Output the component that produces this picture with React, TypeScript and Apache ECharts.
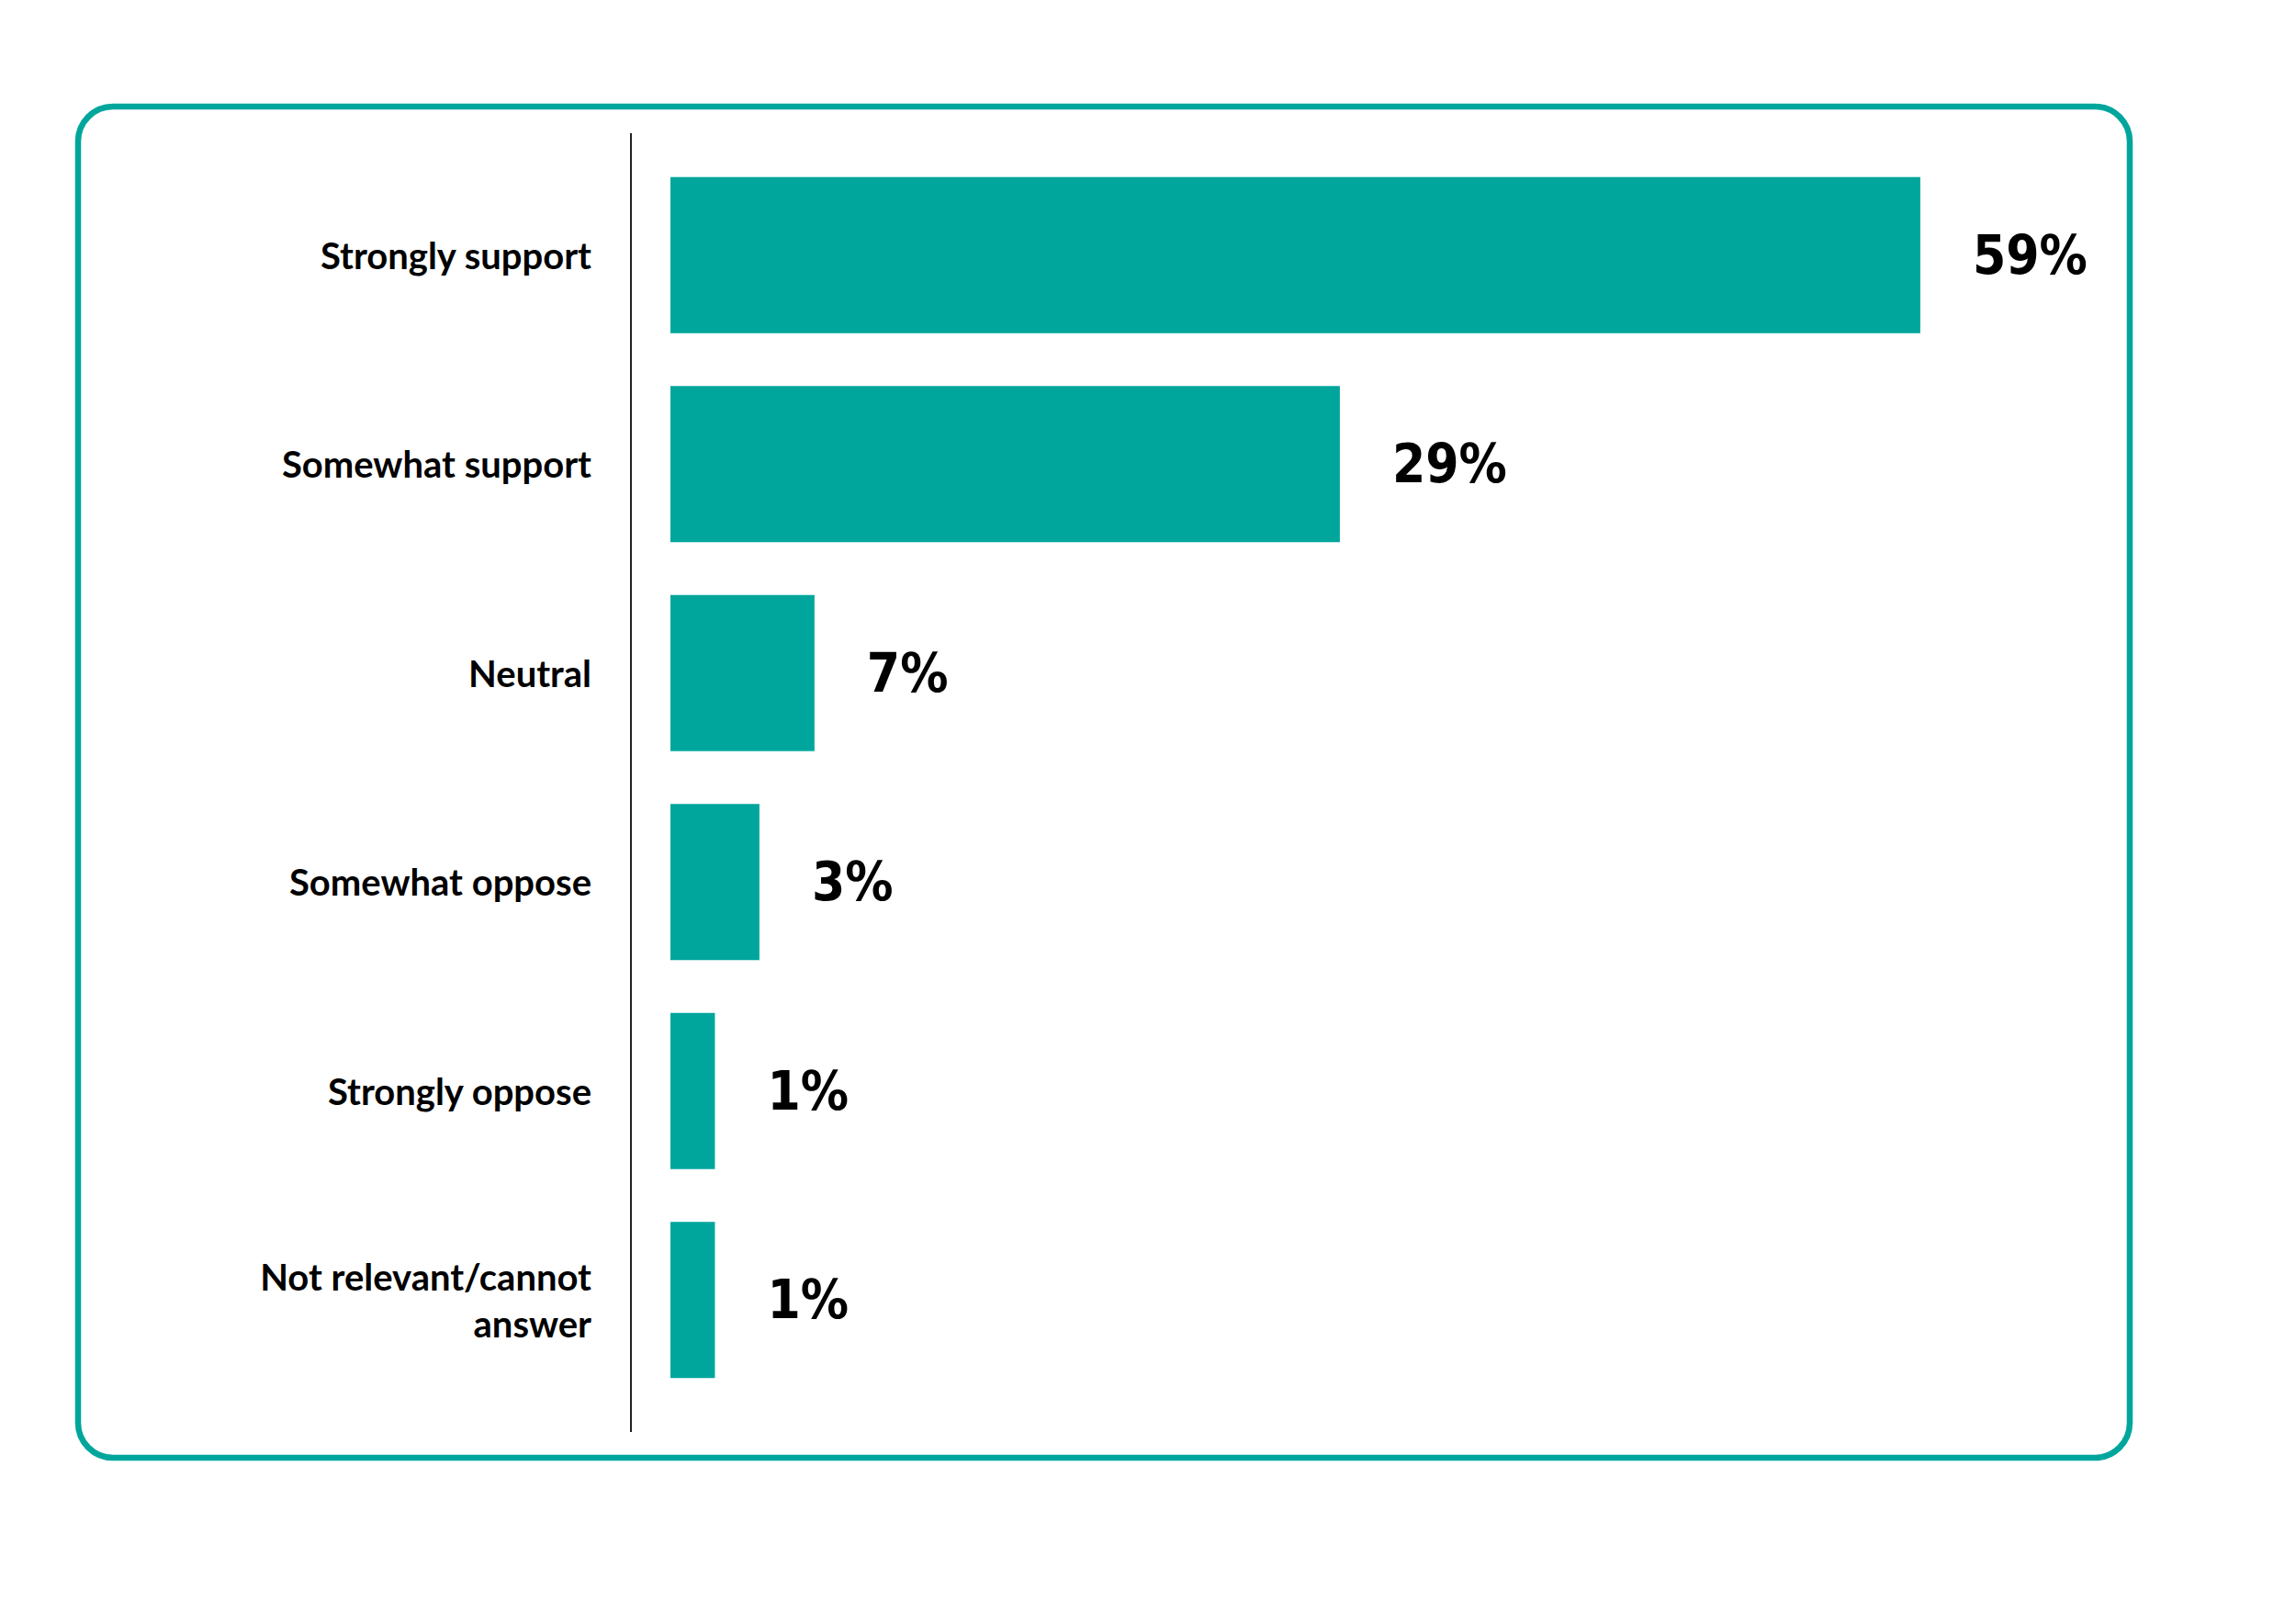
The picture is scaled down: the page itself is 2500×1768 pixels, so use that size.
import React, { useEffect, useRef } from "react";
import * as echarts from "echarts";

const categories = [
  "Strongly support",
  "Somewhat support",
  "Neutral",
  "Somewhat oppose",
  "Strongly oppose",
  "Not relevant/cannot\nanswer",
];
// bar lengths as drawn in the picture
const barValues = [59, 31.6, 6.8, 4.2, 2.1, 2.1];
// label texts as printed in the picture
const valueLabels = ["59%", "29%", "7%", "3%", "1%", "1%"];

const TEAL = "#00A69C";

export default function App() {
  const ref = useRef<HTMLDivElement>(null);
  useEffect(() => {
    if (!ref.current) return;
    const chart = echarts.init(ref.current, null, { renderer: "svg" });
    chart.setOption({
      animation: false,
      backgroundColor: "#ffffff",
      grid: { left: 730, right: 386, top: 164, bottom: 239, containLabel: false },
      xAxis: {
        type: "value",
        min: 0,
        max: 60,
        show: false,
      },
      yAxis: {
        type: "category",
        data: categories,
        inverse: true,
        axisLine: { show: false },
        axisTick: { show: false },
        splitLine: { show: false },
        axisLabel: {
          margin: 86,
          color: "#000000",
          fontFamily: "Lato, 'Noto Sans', sans-serif",
          fontWeight: "bold",
          fontSize: 40,
          lineHeight: 51,
          align: "right",
        },
      },
      series: [
        {
          type: "bar",
          data: barValues,
          barWidth: 170,
          itemStyle: { color: TEAL },
          label: {
            show: true,
            position: "right",
            distance: 57,
            color: "#000000",
            fontFamily: "'DejaVu Sans Condensed', 'DejaVu Sans', sans-serif",
            fontWeight: "bold",
            fontSize: 58,
            padding: [0, 0, 10, 0],
            formatter: (p: any) => valueLabels[p.dataIndex],
          },
        },
      ],
      graphic: [
        {
          type: "rect",
          shape: { x: 85, y: 116, width: 2234, height: 1471, r: 38 },
          style: { fill: "none", stroke: TEAL, lineWidth: 6.5 },
          silent: true,
        },
        {
          type: "line",
          shape: { x1: 687, y1: 145, x2: 687, y2: 1559 },
          style: { stroke: "#222222", lineWidth: 2 },
          silent: true,
        },
      ],
    });
    return () => chart.dispose();
  }, []);
  return (
    <div
      ref={ref}
      style={{ position: "fixed", left: 0, top: 0, width: 2500, height: 1768, background: "#fff" }}
    />
  );
}
